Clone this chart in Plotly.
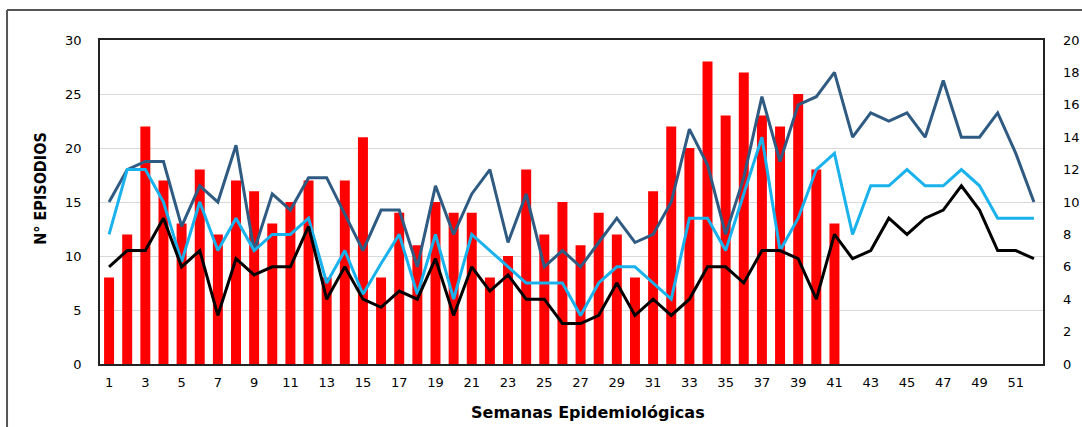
import plotly.graph_objects as go

weeks = list(range(1, 53))

# Nº de episodios (left axis), weeks 1-41
episodios = [8, 12, 22, 17, 13, 18, 12, 17, 16, 13, 15, 17, 8, 17, 21, 8, 14, 11, 15, 14,
             14, 8, 10, 18, 12, 15, 11, 14, 12, 8, 16, 22, 20, 28, 23, 27, 23, 22, 25, 18, 13]

# Lines (right axis), weeks 1-52
linea_max = [10, 12, 12.5, 12.5, 8.5, 11, 10, 13.5, 7, 10.5, 9.5, 11.5, 11.5, 9.3, 7, 9.5, 9.5, 6, 11, 8,
             10.5, 12, 7.5, 10.5, 6, 7, 6, 7.5, 9, 7.5, 8, 10, 14.5, 12.3, 8, 11.5, 16.5, 12.5, 16, 16.5,
             18, 14, 15.5, 15, 15.5, 14, 17.5, 14, 14, 15.5, 13, 10]
linea_media = [8, 12, 12, 10, 6.3, 10, 7, 9, 7, 8, 8, 9, 5, 7, 4.3, 6.2, 8, 4.3, 8, 4,
               8, 7, 6, 5, 5, 5, 3, 5, 6, 6, 5, 4, 9, 9, 7, 10.5, 14, 7, 9, 12,
               13, 8, 11, 11, 12, 11, 11, 12, 11, 9, 9, 9]
linea_min = [6, 7, 7, 9, 6, 7, 3, 6.5, 5.5, 6, 6, 8.5, 4, 6, 4, 3.5, 4.5, 4, 6.5, 3,
             6, 4.5, 5.5, 4, 4, 2.5, 2.5, 3, 5, 3, 4, 3, 4, 6, 6, 5, 7, 7, 6.5, 4,
             8, 6.5, 7, 9, 8, 9, 9.5, 11, 9.5, 7, 7, 6.5]

left_ticks = [0, 5, 10, 15, 20, 25, 30]
right_ticks = list(range(0, 21, 2))
x_ticks = list(range(1, 53, 2))

fig = go.Figure()
fig.add_trace(go.Bar(x=weeks[:len(episodios)], y=episodios, marker_color="#FF0000",
                     marker_line_width=0, yaxis="y", name="Episodios"))
fig.add_trace(go.Scatter(x=weeks, y=linea_max, mode="lines", yaxis="y2",
                         line=dict(color="#2F5B82", width=3), name="Máximo"))
fig.add_trace(go.Scatter(x=weeks, y=linea_media, mode="lines", yaxis="y2",
                         line=dict(color="#1AB2EC", width=3), name="Media"))
fig.add_trace(go.Scatter(x=weeks, y=linea_min, mode="lines", yaxis="y2",
                         line=dict(color="#000000", width=3), name="Mínimo"))

tickfont = dict(family="DejaVu Sans", size=13, color="#000000")

fig.update_layout(
    width=1082, height=427,
    margin=dict(l=100, r=39, t=40, b=63, autoexpand=False),
    paper_bgcolor="white", plot_bgcolor="white",
    showlegend=False,
    bargap=0.45,
    xaxis=dict(range=[0.5, 52.5], tickmode="array", tickvals=x_ticks,
               ticktext=[str(v) for v in x_ticks], tickfont=tickfont, automargin=False,
               showgrid=False, zeroline=False, showline=True, linecolor="#222222",
               linewidth=1.5, mirror=True, ticks="", ticklabelstandoff=6),
    yaxis=dict(range=[0, 30], tickmode="array", tickvals=left_ticks, tickfont=tickfont,
               automargin=False,
               showgrid=True, gridcolor="#D9D9D9", gridwidth=1, zeroline=False,
               showline=True, linecolor="#222222", linewidth=1.5, mirror=True,
               ticks="", ticklabelstandoff=14),
    yaxis2=dict(range=[0, 20], tickmode="array", tickvals=right_ticks, tickfont=tickfont,
                automargin=False,
                overlaying="y", side="right", showgrid=False, zeroline=False,
                showline=False, ticks="", ticklabelstandoff=19),
    annotations=[
        dict(text="<b>N° EPISODIOS</b>", xref="paper", yref="paper", x=-0.064, y=0.543,
             xanchor="center", yanchor="middle",
             textangle=-90, showarrow=False,
             font=dict(family="DejaVu Sans Condensed, Liberation Sans Narrow, Liberation Sans",
                       size=16, color="#000000")),
        dict(text="<b>Semanas Epidemiológicas</b>", xref="paper", yref="paper", x=0.517,
             y=-0.151, xanchor="center", yanchor="middle", showarrow=False,
             font=dict(family="DejaVu Sans", size=16, color="#000000")),
    ],
    shapes=[
        dict(type="line", xref="paper", yref="paper", x0=-0.0986, x1=1.05, y0=1.0926, y1=1.0926,
             line=dict(color="#555555", width=2)),
        dict(type="line", xref="paper", yref="paper", x0=-0.0986, x1=-0.0986, y0=1.0926, y1=-0.2,
             line=dict(color="#555555", width=2)),
    ],
)

fig.write_html("out.html", config={"displayModeBar": False},
               post_script="document.body.style.margin='0';")
